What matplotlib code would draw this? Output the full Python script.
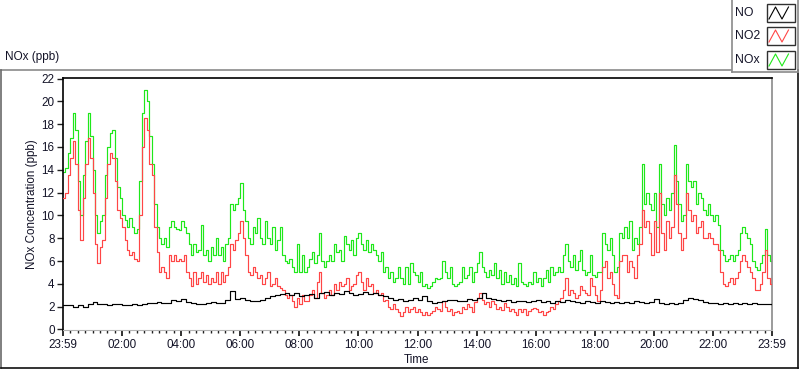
import numpy as np
import matplotlib
matplotlib.use("Agg")
import matplotlib.pyplot as plt
from matplotlib.patches import Rectangle

# ---------------- data ----------------
# 5-minute samples from 23:59 (0 h) to 23:59 (24 h)
nox_5min = [
    13.8,14.2,15.5,16.8,19.0,17.5,13.0,10.0,13.5,16.5,19.0,17.0,14.0,10.0,8.5,9.5,10.0,13.5,16.0,17.2,17.5,15.0,12.5,11.5,10.0,9.6,9.0,9.8,9.0,8.5,8.8,13.0,19.0,21.0,20.0,17.0,14.5,11.0,9.0,8.0,7.5,8.0,7.2,9.0,9.5,9.0,8.8,8.7,9.5,
    9.0,8.5,7.5,6.5,7.5,6.8,7.0,9.2,6.5,7.0,6.0,7.2,6.5,8.0,6.5,7.2,6.0,7.5,8.0,11.0,10.5,11.0,11.5,12.8,10.5,9.5,8.0,7.5,9.0,8.5,9.8,8.0,7.5,9.5,8.0,7.5,9.0,7.0,7.8,9.0,6.5,6.0,5.8,6.2,5.5,5.0,7.5,5.0,
    6.5,5.0,5.5,6.2,6.8,5.8,6.5,8.5,6.0,5.5,6.0,6.5,6.0,7.5,6.8,7.0,6.0,8.2,7.5,7.0,7.8,6.5,8.0,8.5,7.5,7.0,7.8,6.8,7.5,7.0,6.5,6.0,6.8,5.0,5.5,4.5,5.0,4.2,4.5,5.5,4.5,4.0,5.5,4.0,5.8,5.0,4.8,4.2,
    5.0,3.8,4.0,3.6,3.8,4.2,4.5,4.4,4.5,6.0,5.0,4.5,5.5,4.0,3.8,4.0,4.2,5.5,4.5,4.8,5.5,4.2,5.0,5.8,6.8,5.5,5.0,4.6,5.2,4.8,5.8,4.5,5.2,4.0,5.0,4.2,4.8,4.0,4.5,3.8,5.8,4.2,4.0,3.8,4.2,4.0,5.0,4.2,
    4.5,3.8,4.5,5.2,4.2,5.5,4.8,5.0,5.5,5.0,6.5,7.5,6.0,5.5,6.5,5.2,6.0,7.0,5.2,4.8,5.0,6.5,4.8,4.6,5.0,5.0,8.5,7.5,7.0,8.0,6.5,5.0,5.5,8.5,8.0,9.0,8.0,9.5,7.0,8.0,7.5,9.0,14.5,11.0,12.0,11.0,10.5,12.0,
    9.0,14.5,11.0,10.0,11.5,10.5,12.0,16.2,13.0,11.0,9.5,10.0,14.5,13.0,12.5,13.0,11.0,12.0,11.5,10.5,10.0,11.0,10.0,9.5,10.0,9.2,7.0,6.5,6.0,6.2,6.5,6.0,6.5,7.0,8.5,9.0,8.5,8.0,7.5,6.0,5.5,5.2,5.8,6.5,8.8,6.5,6.0,6.2,
]
no2_5min = [
    11.5,12.0,13.5,15.0,16.5,14.5,10.5,7.8,11.5,14.5,16.8,15.0,12.0,7.5,5.8,7.2,7.8,11.5,14.5,15.5,15.0,13.0,10.5,9.8,9.0,7.8,7.0,6.5,6.8,6.2,6.0,10.0,16.0,18.5,17.5,14.5,13.5,9.0,6.8,5.0,5.5,5.0,4.5,6.5,6.0,6.5,6.0,6.2,6.0,
    6.5,5.0,4.5,3.8,5.0,4.0,4.5,5.0,4.2,4.8,4.0,4.5,4.2,5.0,4.0,5.0,4.2,4.8,5.5,7.5,7.0,7.8,8.5,9.5,8.0,6.5,5.0,4.8,5.5,5.0,4.5,4.8,4.0,4.5,5.0,3.8,4.0,4.5,3.8,3.6,3.5,3.0,2.8,3.0,2.5,2.0,2.8,2.2,
    3.0,2.5,2.5,3.0,3.5,2.8,4.2,5.0,3.2,2.8,3.0,3.5,3.0,4.0,3.5,4.2,3.8,4.0,4.5,3.5,3.8,4.0,4.8,5.0,4.2,3.5,4.5,3.8,4.0,3.2,3.5,3.0,3.2,2.5,2.6,2.0,1.8,2.2,1.8,1.5,1.2,1.5,2.0,1.5,1.8,2.0,1.5,1.8,
    1.5,1.3,1.5,1.3,1.4,1.6,2.0,1.8,1.6,2.5,2.0,1.6,1.8,1.3,1.5,1.6,1.4,2.0,1.8,2.2,2.0,1.5,2.4,2.8,3.2,2.6,2.2,2.4,2.0,2.5,2.2,1.8,2.0,1.7,2.3,2.0,1.6,1.8,1.5,1.3,1.8,1.5,1.8,1.3,1.6,1.8,1.9,1.8,
    1.5,1.6,1.3,1.5,1.6,2.0,1.8,2.2,2.5,2.8,3.5,4.5,3.0,3.5,3.2,2.8,3.0,3.8,3.5,3.2,3.0,4.5,3.8,3.0,2.5,3.5,5.5,6.0,4.5,5.0,4.0,3.0,2.8,6.0,6.5,6.5,5.0,6.0,5.5,4.5,6.5,7.5,10.5,9.0,9.5,8.5,6.5,9.5,
    6.8,12.0,8.5,7.0,9.5,8.0,9.0,13.5,11.0,8.5,7.0,8.0,12.0,10.5,9.5,10.0,8.5,9.0,9.5,8.0,8.0,8.5,8.0,7.5,7.5,7.0,5.0,4.0,3.8,4.2,4.5,4.0,4.5,5.0,6.0,6.5,6.0,5.5,5.0,4.5,3.5,3.5,4.0,5.0,7.0,4.5,4.0,4.5,
]
# 10-minute samples
no_10min = [
    2.1,2.1,2.0,2.1,2.0,2.2,2.4,2.2,2.2,2.1,2.2,2.2,2.1,2.1,2.2,2.1,2.2,2.3,2.3,2.4,2.3,2.3,2.6,2.5,2.7,
    2.4,2.3,2.2,2.2,2.3,2.4,2.3,2.3,2.6,3.4,2.7,2.8,2.6,2.5,2.5,2.6,2.8,2.9,3.0,3.1,3.2,3.0,3.2,2.9,
    3.0,3.1,2.8,3.2,3.3,3.0,3.2,3.1,3.4,3.2,3.0,3.1,3.3,3.1,3.2,3.0,2.9,2.8,2.6,2.7,2.5,2.6,2.8,2.6,
    2.9,2.5,2.3,2.4,2.5,2.6,2.6,2.5,2.5,2.7,2.6,2.8,3.2,2.8,2.7,2.6,2.5,2.6,2.4,2.5,2.5,2.4,2.5,2.6,
    2.4,2.5,2.3,2.5,2.4,2.6,2.5,2.4,2.3,2.5,2.4,2.3,2.5,2.4,2.3,2.4,2.3,2.4,2.3,2.5,2.4,2.3,2.4,2.7,
    2.3,2.2,2.3,2.2,2.3,2.6,2.8,2.7,2.6,2.4,2.3,2.3,2.2,2.3,2.2,2.3,2.2,2.3,2.2,2.3,2.2,2.2,2.2,2.1,
]
tick_hours = [0, 2, 4, 6, 8, 10, 12, 14, 16, 18, 20, 22, 24]
tick_labels = ["23:59", "02:00", "04:00", "06:00", "08:00", "10:00", "12:00",
               "14:00", "16:00", "18:00", "20:00", "22:00", "23:59"]
y_ticks = [0, 2, 4, 6, 8, 10, 12, 14, 16, 18, 20, 22]
series_names = ["NO", "NO2", "NOx"]

t5 = np.arange(len(nox_5min)) * 5 / 60.0
t10 = np.arange(len(no_10min)) * 10 / 60.0

# ---------------- style ----------------
FONT = "Liberation Sans"
TXT = "#141428"
GREEN = "#1fe81a"
RED = "#ff4646"
BLACK = "#000000"
W, H = 800, 369

fig = plt.figure(figsize=(W / 100, H / 100), dpi=100)

# background overlay in pixel coordinates
ov = fig.add_axes([0, 0, 1, 1], zorder=0)
ov.set_xlim(0, W)
ov.set_ylim(H, 0)
ov.axis("off")

# outer frame
ov.plot([0.5, 731], [69.5, 69.5], color="#8a8a8a", lw=1.2)
ov.plot([0.5, 0.5], [69.5, 367.5], color="#6a6a6a", lw=1.2)
ov.plot([0.5, 797.5], [367.5, 367.5], color="#101010", lw=1.2)
ov.plot([797.5, 797.5], [69.5, 367.5], color="#101010", lw=1.2)

# legend box
ov.plot([731.5, 731.5], [0, 71.5], color="#8a8a8a", lw=1.2)
ov.plot([731.5, 797.5], [71.5, 71.5], color="#8a8a8a", lw=1.2)
ov.plot([797.5, 797.5], [0, 71.5], color="#8a8a8a", lw=1.2)
legend_colors = [BLACK, RED, GREEN]
row_y = [13, 36, 60]
for name, col, yc in zip(series_names, legend_colors, row_y):
    ov.text(735, yc, name, fontsize=8.8, family=FONT, color=TXT, ha="left", va="center")
    ov.add_patch(Rectangle((767, yc - 9), 28, 18, fill=True, facecolor="white",
                           edgecolor="#303030", lw=1.0))
    zx = [769, 775.5, 782, 788.5]
    zy = [yc + 6, yc - 6, yc + 6, yc - 6]
    ov.plot(zx, zy, color=col, lw=0.8)

ov.text(5, 57, "NOx (ppb)", fontsize=8.5, family=FONT, color=TXT, ha="left", va="center")
ov.text(32, 204, "NOx Concentration (ppb)", fontsize=8.4, family=FONT, color=TXT,
        ha="center", va="center", rotation=90)
ov.text(417, 360, "Time", fontsize=8.4, family=FONT, color=TXT, ha="center", va="center")

# main plot axes
left, right, top, bottom = 63, 772, 78, 330
ax = fig.add_axes([left / W, (H - bottom) / H, (right - left) / W, (bottom - top) / H], zorder=1)
ax.step(t10, no_10min, where="post", color=BLACK, lw=0.85, zorder=4)
ax.step(t5, no2_5min, where="post", color=RED, lw=0.85, zorder=3)
ax.step(t5, nox_5min, where="post", color=GREEN, lw=0.85, zorder=2)

ax.set_xlim(0, 24)
ax.set_ylim(-0.05, 22.05)
ax.set_xticks(tick_hours)
ax.set_xticklabels(tick_labels)
ax.set_xticks(np.arange(0, 24.01, 0.25), minor=True)
ax.set_yticks(y_ticks)
ax.set_yticklabels([str(v) for v in y_ticks])

for lab in ax.get_xticklabels() + ax.get_yticklabels():
    lab.set_family(FONT)
    lab.set_fontsize(8.4)
    lab.set_color(TXT)
ax.tick_params(axis="x", which="major", length=4, width=1.3, color="#202020", pad=2.5)
ax.tick_params(axis="x", which="minor", length=2.5, width=1.0, color="#202020")
ax.tick_params(axis="y", which="major", length=4, width=1.0, color="#202020", pad=2)

ax.spines["left"].set_color("#000000")
ax.spines["top"].set_color("#000000")
ax.spines["right"].set_color("#8a8a8a")
ax.spines["bottom"].set_color("#b4b4b4")
for s in ax.spines.values():
    s.set_linewidth(1.2)
ax.spines["bottom"].set_linewidth(0.8)

fig.savefig("out.png", dpi=100)
